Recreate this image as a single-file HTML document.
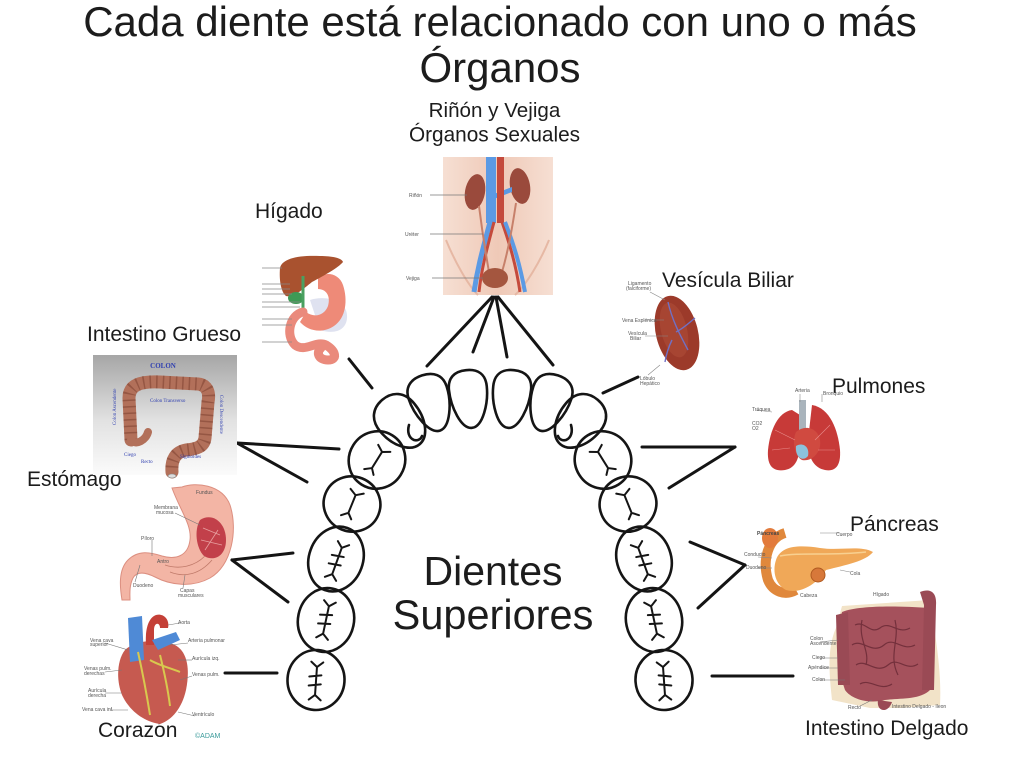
<!DOCTYPE html>
<html>
<head>
<meta charset="utf-8">
<style>
  html,body{margin:0;padding:0;background:#fff;}
  body{width:1024px;height:767px;overflow:hidden;}
  svg{display:block;}
  .t{font-family:"Liberation Sans",Arial,sans-serif;fill:#1c1c1c;}
  .s{font-family:"Liberation Sans",Arial,sans-serif;fill:#555;font-size:5px;}
</style>
</head>
<body>
<svg width="1024" height="767" viewBox="0 0 1024 767" xmlns="http://www.w3.org/2000/svg">
  <defs>
    <linearGradient id="gcol" x1="0" y1="0" x2="0" y2="1">
      <stop offset="0" stop-color="#a6a6a6"/>
      <stop offset="0.55" stop-color="#e2e2e2"/>
      <stop offset="1" stop-color="#fbfbfb"/>
    </linearGradient>
    <linearGradient id="gskin" x1="0" y1="0" x2="1" y2="0">
      <stop offset="0" stop-color="#f6dfd3"/>
      <stop offset="0.5" stop-color="#efc9b7"/>
      <stop offset="1" stop-color="#f6dfd3"/>
    </linearGradient>
  </defs>

  <!-- Title -->
  <text class="t" x="500" y="36" font-size="42" text-anchor="middle">Cada diente está relacionado con uno o más</text>
  <text class="t" x="500" y="82" font-size="42" text-anchor="middle">Órganos</text>

  <!-- Labels -->
  <text class="t" x="494.5" y="117" font-size="20.6" text-anchor="middle">Riñón y Vejiga</text>
  <text class="t" x="494.5" y="141.5" font-size="20.8" text-anchor="middle">Órganos Sexuales</text>
  <text class="t" x="255" y="218" font-size="21">Hígado</text>
  <text class="t" x="87" y="341" font-size="21">Intestino Grueso</text>
  <text class="t" x="662" y="287" font-size="21">Vesícula Biliar</text>
  <text class="t" x="832" y="393" font-size="21">Pulmones</text>
  <text class="t" x="27" y="486" font-size="21">Estómago</text>
  <text class="t" x="850" y="531" font-size="21">Páncreas</text>
  <text class="t" x="98" y="737" font-size="21">Corazón</text>
  <text class="t" x="805" y="735" font-size="21">Intestino Delgado</text>
  <text class="t" x="493" y="585" font-size="41" text-anchor="middle">Dientes</text>
  <text class="t" x="493" y="629" font-size="41.5" text-anchor="middle">Superiores</text>

  <!-- Connector lines -->
  <g stroke="#141414" stroke-width="3" stroke-linecap="round">
    <line x1="492" y1="297" x2="427" y2="366"/>
    <line x1="494" y1="297" x2="473" y2="352"/>
    <line x1="496" y1="297" x2="507" y2="357"/>
    <line x1="498" y1="297" x2="553" y2="365"/>
    <line x1="349" y1="359" x2="372" y2="388"/>
    <line x1="237" y1="443" x2="339" y2="449"/>
    <line x1="237" y1="443" x2="307" y2="482"/>
    <line x1="232" y1="560" x2="293" y2="553"/>
    <line x1="232" y1="560" x2="288" y2="602"/>
    <line x1="225" y1="673" x2="277" y2="673"/>
    <line x1="603" y1="393" x2="638" y2="377"/>
    <line x1="642" y1="447" x2="735" y2="447"/>
    <line x1="669" y1="488" x2="735" y2="447"/>
    <line x1="690" y1="542" x2="745" y2="565"/>
    <line x1="698" y1="608" x2="745" y2="565"/>
    <line x1="712" y1="676" x2="793" y2="676"/>
  </g>

  <!-- Teeth left side -->
  <g id="L" fill="none" stroke="#151515" stroke-width="2.6" stroke-linejoin="round" stroke-linecap="round">
    <path transform="translate(469,399) rotate(-6)" d="M0,-29 C12,-29 19,-23 19,-11 C19,6 11,29 0,29 C-11,29 -19,6 -19,-11 C-19,-23 -12,-29 0,-29Z"/>
    <path transform="translate(431,403) rotate(-18)" d="M0,-29 C12,-29 20,-23 20,-11 C20,6 11,29 0,29 C-11,29 -20,6 -20,-11 C-20,-23 -12,-29 0,-29Z"/>
    <path transform="translate(401,422) rotate(-40)" d="M0,-29 C13,-29 22,-21 22,-6 C22,13 12,29 0,29 C-12,29 -22,13 -22,-6 C-22,-21 -13,-29 0,-29Z"/>
    <path d="M409,425 C407,432 409,438 414,440 C418,441 421,439 422,436"/>
    <ellipse cx="377" cy="460" rx="28" ry="29" transform="rotate(32 377 460)"/>
    <ellipse cx="352" cy="504" rx="28.5" ry="27.5" transform="rotate(22 352 504)"/>
    <ellipse cx="336" cy="559" rx="27" ry="33" transform="rotate(20 336 559)"/>
    <ellipse cx="326" cy="620" rx="28" ry="32" transform="rotate(12 326 620)"/>
    <ellipse cx="316" cy="680" rx="28.5" ry="30" transform="rotate(4 316 680)"/>
    <g stroke-width="2">
      <path transform="translate(377,460) rotate(32)" d="M0,-9.5 L0,9.5 M0,-9.5 L-7,-13.5 M0,-9.5 L7,-14 M0,9.5 L-6,14.5 M0,9.5 L5,14.5"/>
      <path transform="translate(352,504) rotate(22)" d="M0,-9.5 L0,9.5 M0,-9.5 L-7,-13.5 M0,-9.5 L7,-14 M0,9.5 L-6,14.5 M0,9.5 L5,14.5"/>
      <path transform="translate(337,561) rotate(20)" d="M0,-14 L0,14 M0,-14 L-6,-19 M0,-14 L6,-19 M0,14 L-6,19 M0,14 L6,19 M-7,-4 L5,-6 M-7,5 L5,3"/>
      <path transform="translate(326,620) rotate(12)" d="M0,-14 L0,14 M0,-14 L-6,-19 M0,-14 L6,-19 M0,14 L-6,19 M0,14 L6,19 M-7,-4 L5,-6 M-7,5 L5,3"/>
      <path transform="translate(316,681) rotate(4)" d="M0,-14 L0,14 M0,-14 L-6,-19 M0,-14 L6,-19 M0,14 L-6,19 M0,14 L6,19 M-7,-4 L5,-6 M-7,5 L5,3"/>
    </g>
  </g>
  <use href="#L" transform="translate(980,0) scale(-1,1)"/>

  <!-- Kidney / bladder picture -->
  <g>
    <rect x="443" y="157" width="110" height="138" fill="url(#gskin)"/>
    <path d="M446,240 C455,262 468,285 478,295 M549,240 C540,262 526,285 515,295" stroke="#e6b8a4" stroke-width="2" fill="none"/>
    <ellipse cx="475" cy="192" rx="10" ry="18" transform="rotate(10 475 192)" fill="#9a4a3c"/>
    <ellipse cx="520" cy="186" rx="10" ry="18" transform="rotate(-10 520 186)" fill="#9a4a3c"/>
    <rect x="486" y="157" width="10" height="66" fill="#5b9ae4"/>
    <path d="M494,194 L512,187 L512,192 L494,199Z" fill="#5b9ae4"/>
    <rect x="497" y="157" width="7" height="66" fill="#c44a3c"/>
    <path d="M490,222 C484,245 478,265 474,292" stroke="#5b9ae4" stroke-width="5" fill="none"/>
    <path d="M494,222 C488,245 482,265 479,292" stroke="#c44a3c" stroke-width="3" fill="none"/>
    <path d="M502,222 C510,245 516,265 520,292" stroke="#c44a3c" stroke-width="3" fill="none"/>
    <path d="M505,222 C514,245 520,265 525,292" stroke="#5b9ae4" stroke-width="4" fill="none"/>
    <path d="M479,206 C482,230 486,255 489,272 M516,203 C512,230 507,255 502,272" stroke="#c7806a" stroke-width="2" fill="none"/>
    <ellipse cx="495" cy="278" rx="13" ry="10" fill="#a4563f"/>
    <g stroke="#777" stroke-width="0.8">
      <line x1="430" y1="195" x2="467" y2="195"/>
      <line x1="430" y1="234" x2="483" y2="234"/>
      <line x1="432" y1="278" x2="483" y2="278"/>
    </g>
    <text class="s" x="409" y="197" font-size="6.5">Riñón</text>
    <text class="s" x="405" y="236" font-size="6.5">Uréter</text>
    <text class="s" x="406" y="280" font-size="6.5">Vejiga</text>
  </g>

  <!-- Liver picture -->
  <g>
    <path d="M310,300 C325,295 346,300 347,315 C348,330 335,335 320,330Z" fill="#c9cfe6" opacity="0.6"/>
    <path d="M318,278 C325,271 339,273 343,285 C348,300 346,318 334,326 C322,334 308,331 300,322 L306,312 C314,318 324,316 328,306 C331,296 326,289 318,289Z" fill="#ee8a78"/>
    <path d="M280,268 C282,258 300,255 320,256 C332,256 342,258 343,262 C338,268 325,275 312,282 C302,290 293,298 286,296 C281,292 279,280 280,268Z" fill="#a9522f"/>
    <ellipse cx="296" cy="298" rx="8" ry="6" fill="#3f9a55"/>
    <path d="M303,276 L303,312" stroke="#4aa060" stroke-width="3"/>
    <path d="M303,312 C290,315 285,335 295,345 C305,353 316,340 326,345 C336,351 338,360 328,360 C318,360 316,352 321,348" stroke="#ea8a7c" stroke-width="9" fill="none" stroke-linecap="round"/>
    <g stroke="#888" stroke-width="0.7">
      <line x1="262" y1="268" x2="282" y2="268"/>
      <line x1="262" y1="284" x2="290" y2="284"/>
      <line x1="262" y1="289" x2="290" y2="289"/>
      <line x1="262" y1="294" x2="292" y2="294"/>
      <line x1="262" y1="302" x2="300" y2="302"/>
      <line x1="262" y1="307" x2="300" y2="307"/>
      <line x1="262" y1="319" x2="292" y2="319"/>
      <line x1="262" y1="325" x2="292" y2="325"/>
      <line x1="262" y1="342" x2="292" y2="342"/>
    </g>
  </g>

  <!-- Colon picture -->
  <g>
    <rect x="93" y="355" width="144" height="120" fill="url(#gcol)"/>
    <text x="163" y="368" font-size="7" fill="#2f3fb0" text-anchor="middle" font-family="Liberation Serif,serif" font-weight="bold">COLON</text>
    <path d="M131,440 L129,398 C129,385 140,381 160,382 L198,384 C207,385 210,392 208,402 L205,438 C204,447 196,449 186,450 C176,452 171,459 172,472" stroke="#b2705a" stroke-width="13" fill="none" stroke-linecap="round"/>
    <path d="M131,440 L129,398 C129,385 140,381 160,382 L198,384 C207,385 210,392 208,402 L205,438 C204,447 196,449 186,450 C176,452 171,459 172,472" stroke="#7e4232" stroke-width="13" fill="none" stroke-dasharray="1.5 5" opacity="0.55"/>
    <path d="M131,440 C136,446 146,440 148,432" stroke="#b2705a" stroke-width="8" fill="none" stroke-linecap="round"/>
    <ellipse cx="172" cy="476" rx="4" ry="2" fill="#ddd" stroke="#888" stroke-width="0.6"/>
    <text x="150" y="402" font-size="5" fill="#2f3fb0" font-family="Liberation Serif,serif">Colon Transverso</text>
    <text x="0" y="0" font-size="5" fill="#2f3fb0" font-family="Liberation Serif,serif" transform="translate(116,425) rotate(-90)">Colon Ascendente</text>
    <text x="0" y="0" font-size="5" fill="#2f3fb0" font-family="Liberation Serif,serif" transform="translate(220,395) rotate(90)">Colon Descendente</text>
    <text x="124" y="456" font-size="5" fill="#2f3fb0" font-family="Liberation Serif,serif">Ciego</text>
    <text x="141" y="463" font-size="5" fill="#2f3fb0" font-family="Liberation Serif,serif">Recto</text>
    <text x="180" y="458" font-size="5" fill="#2f3fb0" font-family="Liberation Serif,serif">Sigmoides</text>
  </g>

  <!-- Stomach picture -->
  <g>
    <path d="M172,488 L182,487 C195,482 222,484 230,505 C238,530 232,565 210,578 C192,588 170,585 155,577 C145,572 137,571 133,578 C129,586 130,595 130,600 L122,600 C120,588 118,570 128,560 C138,550 150,552 162,556 C176,560 188,556 190,540 C192,525 180,510 172,488Z" fill="#f3b5a5" stroke="#dc8f80" stroke-width="1"/>
    <path d="M200,520 C212,512 226,522 226,540 C226,556 214,562 204,556 C196,548 194,530 200,520Z" fill="#c2404a"/>
    <path d="M203,528 L220,535 M201,540 L222,545 M205,550 L218,530" stroke="#e8a0a0" stroke-width="0.8"/>
    <g stroke="#c07a6a" stroke-width="0.8" fill="none">
      <path d="M165,565 C180,570 195,566 205,556"/>
      <path d="M170,572 C185,578 200,574 212,560"/>
    </g>
    <g stroke="#777" stroke-width="0.6">
      <line x1="175" y1="513" x2="200" y2="525"/>
      <line x1="152" y1="540" x2="152" y2="556"/>
      <line x1="140" y1="565" x2="135" y2="582"/>
      <line x1="183" y1="588" x2="185" y2="575"/>
    </g>
    <text class="s" x="196" y="494">Fundus</text>
    <text class="s" x="154" y="509">Membrana</text>
    <text class="s" x="156" y="514">mucosa</text>
    <text class="s" x="141" y="540">Píloro</text>
    <text class="s" x="157" y="563">Antro</text>
    <text class="s" x="133" y="587">Duodeno</text>
    <text class="s" x="180" y="592">Capas</text>
    <text class="s" x="178" y="597">musculares</text>
  </g>

  <!-- Heart picture -->
  <g>
    <path d="M125,650 C135,640 160,638 175,645 C188,652 190,670 186,690 C182,708 172,720 160,724 C145,722 130,712 122,695 C116,680 117,660 125,650Z" fill="#c65a50"/>
    <path d="M128,618 L142,616 L144,660 L130,662Z" fill="#4f8ad6"/>
    <path d="M146,645 C145,630 148,618 156,615 C164,613 170,620 168,628 L160,628 C160,622 154,622 154,630 L154,645Z" fill="#c44038"/>
    <path d="M152,640 L176,632 L180,640 L158,650Z" fill="#4f8ad6"/>
    <g stroke="#d8c84e" stroke-width="2" fill="none">
      <path d="M138,652 C142,670 146,690 150,715"/>
      <path d="M160,655 C165,675 168,690 170,706"/>
      <path d="M150,660 C158,665 170,668 180,672"/>
    </g>
    <g stroke="#777" stroke-width="0.6">
      <line x1="105" y1="643" x2="128" y2="650"/>
      <line x1="105" y1="672" x2="122" y2="670"/>
      <line x1="105" y1="693" x2="122" y2="693"/>
      <line x1="110" y1="710" x2="128" y2="710"/>
      <line x1="168" y1="625" x2="180" y2="623"/>
      <line x1="170" y1="645" x2="188" y2="643"/>
      <line x1="178" y1="660" x2="192" y2="660"/>
      <line x1="180" y1="680" x2="192" y2="676"/>
      <line x1="178" y1="712" x2="195" y2="716"/>
    </g>
    <text class="s" x="90" y="642" font-size="4">Vena cava</text>
    <text class="s" x="90" y="646" font-size="4">superior</text>
    <text class="s" x="84" y="670" font-size="4">Venas pulm.</text>
    <text class="s" x="84" y="675" font-size="4">derechas</text>
    <text class="s" x="88" y="692" font-size="4">Aurícula</text>
    <text class="s" x="88" y="697" font-size="4">derecha</text>
    <text class="s" x="82" y="711" font-size="4">Vena cava inf.</text>
    <text class="s" x="178" y="624" font-size="4">Aorta</text>
    <text class="s" x="188" y="642" font-size="4">Arteria pulmonar</text>
    <text class="s" x="192" y="660" font-size="4">Aurícula izq.</text>
    <text class="s" x="192" y="676" font-size="4">Venas pulm.</text>
    <text class="s" x="192" y="716" font-size="4">Ventrículo</text>
    <text x="195" y="738" font-size="7" fill="#3a9a9a" font-family="Liberation Sans,sans-serif">©ADAM</text>
  </g>

  <!-- Gallbladder picture -->
  <g>
    <ellipse cx="677" cy="333" rx="21" ry="38" transform="rotate(-14 677 333)" fill="#9c3a2a"/>
    <ellipse cx="674" cy="330" rx="13" ry="28" transform="rotate(-14 674 330)" fill="#ad4a36" opacity="0.7"/>
    <g stroke="#7070c4" stroke-width="1.4" fill="none">
      <path d="M668,302 C672,320 680,335 688,350"/>
      <path d="M676,332 C684,328 690,322 695,318"/>
      <path d="M672,340 C668,348 666,356 665,362"/>
    </g>
    <g stroke="#888" stroke-width="0.6">
      <line x1="650" y1="292" x2="665" y2="300"/>
      <line x1="645" y1="320" x2="664" y2="320"/>
      <line x1="645" y1="336" x2="668" y2="336"/>
      <line x1="648" y1="375" x2="660" y2="365"/>
    </g>
    <text class="s" x="628" y="285" font-size="4">Ligamento</text>
    <text class="s" x="626" y="290" font-size="4">(falciforme)</text>
    <text class="s" x="622" y="322" font-size="4">Vena Esplénica</text>
    <text class="s" x="628" y="335" font-size="4">Vesícula</text>
    <text class="s" x="630" y="340" font-size="4">Biliar</text>
    <text class="s" x="640" y="380" font-size="4">Lóbulo</text>
    <text class="s" x="640" y="385" font-size="4">Hepático</text>
  </g>

  <!-- Lungs picture -->
  <g>
    <path d="M792,410 C778,412 770,430 768,450 C767,465 772,472 785,470 C795,468 800,460 800,440 L800,415Z" fill="#c73a38"/>
    <path d="M812,405 C830,408 838,430 840,450 C841,465 836,472 825,470 C815,468 808,460 808,440Z" fill="#c73a38"/>
    <rect x="799" y="400" width="7" height="45" fill="#a9b4bc"/>
    <path d="M796,432 C805,424 818,428 820,440 C822,452 812,462 802,460 C794,456 792,440 796,432Z" fill="#d04a40"/>
    <path d="M796,446 C802,442 810,446 808,456 C803,462 795,458 796,446Z" fill="#8cc2dc"/>
    <g stroke="#f0a0a0" stroke-width="0.6" fill="none" opacity="0.8">
      <path d="M775,430 L795,440 M772,450 L790,448 M830,425 L815,440 M835,450 L818,450"/>
    </g>
    <g stroke="#888" stroke-width="0.6">
      <line x1="756" y1="410" x2="772" y2="412"/>
      <line x1="800" y1="394" x2="800" y2="402"/>
      <line x1="822" y1="394" x2="822" y2="402"/>
    </g>
    <text class="s" x="752" y="411" font-size="4">Tráquea</text>
    <text class="s" x="752" y="425" font-size="4">CO2</text>
    <text class="s" x="752" y="430" font-size="4">O2</text>
    <text class="s" x="795" y="392" font-size="4">Arteria</text>
    <text class="s" x="823" y="395" font-size="4">Bronquio</text>
  </g>

  <!-- Pancreas picture -->
  <g>
    <path d="M785,533 C768,538 762,560 768,580 C773,592 785,596 796,590" stroke="#e0883c" stroke-width="10" fill="none"/>
    <path d="M776,560 C781,545 800,545 820,548 C840,551 860,545 873,552 C866,561 846,565 826,570 C816,585 800,594 786,590 C776,585 772,572 776,560Z" fill="#f0a858"/>
    <path d="M780,556 C800,552 830,556 866,552" stroke="#f8d090" stroke-width="1.5" fill="none"/>
    <circle cx="818" cy="575" r="7" fill="#d7783a" stroke="#b05a20" stroke-width="1"/>
    <ellipse cx="770" cy="538" rx="8" ry="10" fill="#e27b3c"/>
    <g stroke="#888" stroke-width="0.6">
      <line x1="758" y1="557" x2="772" y2="558"/>
      <line x1="758" y1="568" x2="772" y2="568"/>
      <line x1="820" y1="533" x2="840" y2="533"/>
      <line x1="840" y1="570" x2="850" y2="572"/>
    </g>
    <text x="757" y="535" font-size="5" fill="#444" font-weight="bold" font-family="Liberation Sans,sans-serif">Páncreas</text>
    <text class="s" x="744" y="556" font-size="4">Conducto</text>
    <text class="s" x="746" y="569" font-size="4">Duodeno</text>
    <text class="s" x="836" y="536" font-size="4">Cuerpo</text>
    <text class="s" x="850" y="575" font-size="4">Cola</text>
    <text class="s" x="800" y="597" font-size="4">Cabeza</text>
  </g>

  <!-- Small intestine picture -->
  <g>
    <path d="M832,700 C830,680 826,650 836,628 L842,606 L930,600 C934,630 942,668 940,705 L900,708 L870,708Z" fill="#f2e3c8"/>
    <path d="M842,612 C860,605 900,606 928,608 L930,690 C920,700 900,698 885,700 C870,704 852,700 845,690 C838,670 836,640 842,612Z" fill="#a5515c"/>
    <path d="M920,592 C930,588 937,592 936,605 L934,690 L922,690 L924,605Z" fill="#9a4a55"/>
    <path d="M836,615 L848,612 L850,685 L838,685Z" fill="#9a4a55"/>
    <g stroke="#74303c" stroke-width="1.2" fill="none">
      <path d="M855,625 C865,620 870,635 880,628 C890,620 898,635 910,628"/>
      <path d="M852,645 C862,638 872,655 884,645 C894,636 902,652 915,645"/>
      <path d="M856,665 C866,658 876,675 888,665 C898,656 906,672 918,664"/>
      <path d="M860,684 C870,678 880,692 892,684"/>
      <path d="M862,620 C858,640 870,650 866,665 M895,620 C900,640 888,655 898,675"/>
    </g>
    <path d="M878,700 C876,712 888,714 892,702" fill="#9a4a55"/>
    <g stroke="#777" stroke-width="0.6">
      <line x1="820" y1="642" x2="838" y2="640"/>
      <line x1="820" y1="658" x2="838" y2="658"/>
      <line x1="820" y1="668" x2="838" y2="668"/>
      <line x1="820" y1="680" x2="845" y2="680"/>
      <line x1="860" y1="706" x2="872" y2="700"/>
    </g>
    <text class="s" x="810" y="640" font-size="4">Colon</text>
    <text class="s" x="810" y="645" font-size="4">Ascendente</text>
    <text class="s" x="812" y="659" font-size="4">Ciego</text>
    <text class="s" x="808" y="669" font-size="4">Apéndice</text>
    <text class="s" x="812" y="681" font-size="4">Colon</text>
    <text class="s" x="848" y="709" font-size="4">Recto</text>
    <text class="s" x="892" y="708" font-size="4">Intestino Delgado - Ileon</text>
    <text class="s" x="873" y="596" font-size="4">Hígado</text>
  </g>
</svg>
</body>
</html>
